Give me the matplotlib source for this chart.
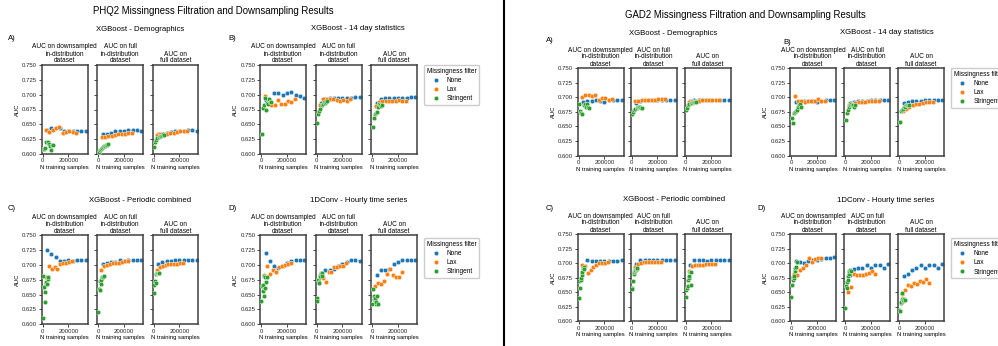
import matplotlib
matplotlib.use("Agg")
import matplotlib.pyplot as plt
from matplotlib.lines import Line2D

plt.rcParams['font.family'] = ['Liberation Sans', 'DejaVu Sans']

# x positions (N training samples) per filter
x_none = [34000, 67000, 101000, 134000, 168000, 201000, 235000, 268000, 302000, 335000]
x_lax_ab = [26000, 52000, 78000, 104000, 130000, 156000, 182000, 208000, 234000, 260000]
x_lax_cd = [23000, 46000, 69000, 92000, 115000, 138000, 161000, 184000, 207000, 230000]
x_str_ab = [5000, 13000, 21000, 29000, 37000, 45000, 53000, 61000, 69000, 78000]
x_str_cd = [1000, 5000, 10000, 14000, 19000, 23000, 28000, 32000, 37000, 42000]

col_titles = ["AUC on downsampled\nin-distribution\ndataset",
              "AUC on full\nin-distribution\ndataset",
              "AUC on\nfull dataset"]
filters = ["None", "Lax", "Stringent"]
colors = ["#1f77b4", "#ff7f0e", "#2ca02c"]

# ---- PHQ2 ----
phq2_demo_none = [[0.640, 0.643, 0.644, 0.643, 0.638, 0.638, 0.639, 0.639, 0.639, 0.639],
                  [0.633, 0.634, 0.636, 0.638, 0.639, 0.639, 0.640, 0.640, 0.640, 0.639],
                  [0.633, 0.634, 0.635, 0.637, 0.638, 0.639, 0.639, 0.640, 0.640, 0.639]]
phq2_demo_lax = [[0.641, 0.637, 0.640, 0.643, 0.645, 0.636, 0.637, 0.639, 0.637, 0.636],
                 [0.628, 0.629, 0.630, 0.631, 0.632, 0.633, 0.634, 0.634, 0.635, 0.636],
                 [0.632, 0.633, 0.633, 0.634, 0.635, 0.636, 0.637, 0.638, 0.638, 0.639]]
phq2_demo_str = [[0.608, 0.609, 0.610, 0.621, 0.620, 0.617, 0.613, 0.606, 0.615, 0.616],
                 [0.603, 0.606, 0.608, 0.610, 0.611, 0.613, 0.614, 0.615, 0.616, 0.617],
                 [0.611, 0.620, 0.624, 0.627, 0.628, 0.630, 0.631, 0.632, 0.633, 0.632]]

phq2_14d_none = [[0.691, 0.688, 0.703, 0.703, 0.700, 0.702, 0.704, 0.700, 0.698, 0.695],
                 [0.686, 0.692, 0.694, 0.695, 0.695, 0.695, 0.695, 0.695, 0.696, 0.696],
                 [0.686, 0.692, 0.694, 0.694, 0.694, 0.695, 0.694, 0.695, 0.696, 0.696]]
phq2_14d_lax = [[0.698, 0.688, 0.682, 0.682, 0.691, 0.684, 0.685, 0.690, 0.688, 0.692],
                [0.682, 0.692, 0.692, 0.692, 0.692, 0.691, 0.690, 0.691, 0.690, 0.692],
                [0.681, 0.688, 0.689, 0.689, 0.689, 0.690, 0.690, 0.691, 0.690, 0.690]]
phq2_14d_str = [[0.634, 0.678, 0.682, 0.694, 0.675, 0.686, 0.684, 0.693, 0.688, 0.687],
                [0.652, 0.667, 0.672, 0.676, 0.682, 0.684, 0.687, 0.686, 0.688, 0.689],
                [0.646, 0.660, 0.668, 0.669, 0.670, 0.679, 0.685, 0.682, 0.681, 0.682]]

phq2_per_none = [[0.726, 0.718, 0.714, 0.706, 0.707, 0.709, 0.707, 0.709, 0.708, 0.708],
                 [0.701, 0.704, 0.705, 0.705, 0.708, 0.707, 0.708, 0.708, 0.708, 0.708],
                 [0.701, 0.705, 0.706, 0.706, 0.709, 0.708, 0.708, 0.708, 0.708, 0.708]]
phq2_per_lax = [[0.680, 0.698, 0.694, 0.696, 0.693, 0.701, 0.703, 0.704, 0.705, 0.707],
                [0.691, 0.699, 0.700, 0.701, 0.703, 0.703, 0.704, 0.705, 0.706, 0.707],
                [0.692, 0.697, 0.698, 0.700, 0.701, 0.702, 0.702, 0.702, 0.703, 0.704]]
phq2_per_str = [[0.610, 0.682, 0.663, 0.638, 0.655, 0.670, 0.672, 0.668, 0.676, 0.680],
                [0.620, 0.660, 0.657, 0.673, 0.668, 0.675, 0.680, 0.679, 0.680, 0.681],
                [0.652, 0.667, 0.673, 0.670, 0.685, 0.687, 0.686, 0.687, 0.686, 0.687]]

phq2_conv_none = [[0.720, 0.706, 0.698, 0.695, 0.698, 0.703, 0.707, 0.709, 0.708, 0.708],
                  [0.686, 0.692, 0.692, 0.693, 0.698, 0.702, 0.705, 0.708, 0.708, 0.707],
                  [0.683, 0.692, 0.692, 0.694, 0.702, 0.705, 0.708, 0.708, 0.709, 0.708]]
phq2_conv_lax = [[0.683, 0.699, 0.685, 0.692, 0.688, 0.697, 0.698, 0.700, 0.701, 0.703],
                 [0.683, 0.678, 0.671, 0.688, 0.688, 0.696, 0.697, 0.698, 0.699, 0.703],
                 [0.664, 0.670, 0.668, 0.673, 0.684, 0.693, 0.683, 0.680, 0.679, 0.688]]
phq2_conv_str = [[0.639, 0.665, 0.656, 0.667, 0.648, 0.681, 0.680, 0.661, 0.672, 0.680],
                 [0.645, 0.640, 0.674, 0.671, 0.670, 0.679, 0.682, 0.685, 0.686, 0.681],
                 [0.634, 0.660, 0.642, 0.648, 0.641, 0.645, 0.634, 0.638, 0.647, 0.634]]

# ---- GAD2 ----
gad2_demo_none = [[0.691, 0.693, 0.694, 0.695, 0.694, 0.692, 0.695, 0.695, 0.695, 0.695],
                  [0.690, 0.694, 0.695, 0.696, 0.696, 0.696, 0.696, 0.696, 0.696, 0.696],
                  [0.693, 0.695, 0.696, 0.696, 0.696, 0.696, 0.696, 0.696, 0.696, 0.696]]
gad2_demo_lax = [[0.701, 0.703, 0.703, 0.702, 0.703, 0.696, 0.698, 0.698, 0.695, 0.697],
                 [0.693, 0.694, 0.695, 0.695, 0.696, 0.696, 0.696, 0.697, 0.697, 0.697],
                 [0.692, 0.693, 0.694, 0.694, 0.695, 0.695, 0.695, 0.695, 0.695, 0.695]]
gad2_demo_str = [[0.689, 0.676, 0.673, 0.672, 0.686, 0.688, 0.684, 0.689, 0.683, 0.682],
                 [0.672, 0.675, 0.678, 0.680, 0.682, 0.683, 0.684, 0.683, 0.682, 0.682],
                 [0.678, 0.682, 0.686, 0.688, 0.690, 0.690, 0.691, 0.691, 0.692, 0.692]]

gad2_14d_none = [[0.691, 0.692, 0.693, 0.693, 0.693, 0.692, 0.694, 0.695, 0.696, 0.696],
                 [0.690, 0.692, 0.693, 0.694, 0.694, 0.695, 0.695, 0.695, 0.696, 0.696],
                 [0.690, 0.692, 0.694, 0.694, 0.694, 0.695, 0.695, 0.695, 0.696, 0.696]]
gad2_14d_lax = [[0.702, 0.694, 0.693, 0.692, 0.693, 0.694, 0.694, 0.697, 0.693, 0.693],
                [0.686, 0.689, 0.690, 0.691, 0.691, 0.692, 0.693, 0.693, 0.693, 0.693],
                [0.677, 0.680, 0.684, 0.686, 0.688, 0.689, 0.690, 0.691, 0.691, 0.692]]
gad2_14d_str = [[0.665, 0.656, 0.673, 0.674, 0.676, 0.679, 0.683, 0.686, 0.689, 0.684],
                [0.661, 0.673, 0.678, 0.683, 0.686, 0.688, 0.687, 0.687, 0.684, 0.686],
                [0.658, 0.677, 0.678, 0.680, 0.683, 0.684, 0.686, 0.687, 0.686, 0.686]]

gad2_per_none = [[0.695, 0.705, 0.703, 0.703, 0.703, 0.703, 0.704, 0.703, 0.703, 0.705],
                 [0.698, 0.705, 0.705, 0.705, 0.705, 0.705, 0.705, 0.705, 0.705, 0.705],
                 [0.697, 0.705, 0.705, 0.705, 0.704, 0.705, 0.705, 0.705, 0.705, 0.705]]
gad2_per_lax = [[0.697, 0.695, 0.683, 0.689, 0.693, 0.697, 0.701, 0.700, 0.700, 0.702],
                [0.693, 0.699, 0.701, 0.702, 0.702, 0.702, 0.702, 0.702, 0.702, 0.702],
                [0.687, 0.695, 0.697, 0.697, 0.697, 0.696, 0.698, 0.699, 0.699, 0.699]]
gad2_per_str = [[0.640, 0.669, 0.657, 0.671, 0.674, 0.679, 0.684, 0.691, 0.693, 0.690],
                [0.658, 0.655, 0.669, 0.682, 0.684, 0.686, 0.688, 0.690, 0.690, 0.692],
                [0.642, 0.654, 0.657, 0.660, 0.671, 0.675, 0.677, 0.684, 0.685, 0.662]]

gad2_conv_none = [[0.703, 0.702, 0.700, 0.703, 0.705, 0.706, 0.707, 0.708, 0.708, 0.711],
                  [0.680, 0.690, 0.691, 0.692, 0.697, 0.691, 0.697, 0.697, 0.692, 0.698],
                  [0.678, 0.681, 0.689, 0.691, 0.697, 0.692, 0.697, 0.697, 0.692, 0.698]]
gad2_conv_lax = [[0.681, 0.680, 0.688, 0.691, 0.696, 0.708, 0.702, 0.707, 0.708, 0.709],
                 [0.651, 0.659, 0.681, 0.679, 0.679, 0.679, 0.681, 0.683, 0.687, 0.681],
                 [0.647, 0.654, 0.663, 0.661, 0.666, 0.664, 0.670, 0.668, 0.672, 0.665]]
gad2_conv_str = [[0.641, 0.663, 0.671, 0.676, 0.674, 0.678, 0.687, 0.691, 0.693, 0.702],
                 [0.622, 0.661, 0.658, 0.667, 0.671, 0.678, 0.682, 0.686, 0.688, 0.687],
                 [0.620, 0.617, 0.631, 0.634, 0.648, 0.638, 0.635, 0.637, 0.638, 0.636]]

W, H = 998, 346
fig = plt.figure(figsize=(W / 100, H / 100), dpi=100)

TICK_FS = 4.3
LABEL_FS = 4.2
COLT_FS = 4.7
PANEL_FS = 5.6
SUP_FS = 6.9


def px_axes(left, top, width, height):
    return fig.add_axes([left / W, 1 - (top + height) / H, width / W, height / H])


def ftext(x, y, s, **kw):
    fig.text(x / W, 1 - y / H, s, ha=kw.pop('ha', 'center'), va=kw.pop('va', 'center'), **kw)


def draw_panel(lefts, top, width, height, series, xs, legend_at=None):
    for i, left in enumerate(lefts):
        ax = px_axes(left, top, width, height)
        for k in range(3):
            ax.scatter(xs[k], series[k][i], s=11, color=colors[k], edgecolors='white',
                       linewidths=0.3, zorder=2 + k)
        ax.set_ylim(0.6, 0.75)
        ax.set_xlim(-10000, 350000)
        ax.set_yticks([0.600, 0.625, 0.650, 0.675, 0.700, 0.725, 0.750])
        ax.set_xticks([0, 200000])
        ax.set_xticklabels(["0", "200000"])
        ax.tick_params(direction='out', length=2.2, width=0.6, pad=1,
                       labelsize=TICK_FS, colors='0.15')
        for sp in ax.spines.values():
            sp.set_linewidth(1.1)
            sp.set_color('0.25')
        if i == 0:
            ax.set_yticklabels(["0.600", "0.625", "0.650", "0.675", "0.700", "0.725", "0.750"])
            ax.set_ylabel("AUC", fontsize=LABEL_FS, labelpad=1.5)
        else:
            ax.set_yticklabels([])
        ax.set_xlabel("N training samples", fontsize=LABEL_FS, labelpad=1)
        ax.set_title(col_titles[i], fontsize=COLT_FS, pad=1.8, linespacing=1.0)
    if legend_at is not None:
        handles = [Line2D([], [], marker='o', linestyle='', markersize=3.3,
                          markerfacecolor=c, markeredgecolor='white', markeredgewidth=0.3)
                   for c in colors]
        fig.legend(handles, filters, title="Missingness filter", loc='upper left',
                   bbox_to_anchor=(legend_at[0] / W, 1 - legend_at[1] / H),
                   bbox_transform=fig.transFigure, fontsize=COLT_FS, title_fontsize=COLT_FS,
                   frameon=True, fancybox=True, edgecolor='0.8', framealpha=1,
                   borderpad=0.4, labelspacing=0.35, handlelength=1.6, handletextpad=0.9,
                   borderaxespad=0)


# ---------- PHQ2 (left) ----------
ftext(213.5, 10.7, "PHQ2 Missingness Filtration and Downsampling Results", fontsize=SUP_FS)
lefts_a = [41.5, 97, 152.5]
lefts_b = [260, 315.5, 371]
ftext(140, 29.3, "XGBoost - Demographics", fontsize=PANEL_FS)
ftext(358, 28.3, "XGBoost - 14 day statistics", fontsize=PANEL_FS)
ftext(140, 200, "XGBoost - Periodic combined", fontsize=PANEL_FS)
ftext(358.7, 200, "1DConv - Hourly time series", fontsize=PANEL_FS)
ftext(8, 39, "A)", fontsize=PANEL_FS, ha='left')
ftext(228, 39, "B)", fontsize=PANEL_FS, ha='left')
ftext(8, 209, "C)", fontsize=PANEL_FS, ha='left')
ftext(228, 209, "D)", fontsize=PANEL_FS, ha='left')

xs_ab = [x_none, x_lax_ab, x_str_ab]
xs_cd = [x_none, x_lax_cd, x_str_cd]
draw_panel(lefts_a, 65, 46, 89, [phq2_demo_none, phq2_demo_lax, phq2_demo_str], xs_ab)
draw_panel(lefts_b, 65, 46, 89, [phq2_14d_none, phq2_14d_lax, phq2_14d_str], xs_ab,
           legend_at=(424.3, 65))
draw_panel(lefts_a, 235.3, 46, 89, [phq2_per_none, phq2_per_lax, phq2_per_str], xs_cd)
draw_panel(lefts_b, 235.3, 46, 89, [phq2_conv_none, phq2_conv_lax, phq2_conv_str], xs_cd,
           legend_at=(424.3, 238))

# divider between the two figures
fig.add_artist(Line2D([503.5 / W, 503.5 / W], [0, 1], color='black', linewidth=1.5))

# ---------- GAD2 (right) ----------
ftext(745, 15, "GAD2 Missingness Filtration and Downsampling Results", fontsize=SUP_FS)
lefts_c = [577.5, 630.5, 684.5]
lefts_d = [790, 844, 898]
ftext(673, 33.3, "XGBoost - Demographics", fontsize=PANEL_FS)
ftext(886.7, 33, "XGBoost - 14 day statistics", fontsize=PANEL_FS)
ftext(674, 199.3, "XGBoost - Periodic combined", fontsize=PANEL_FS)
ftext(886, 200, "1DConv - Hourly time series", fontsize=PANEL_FS)
ftext(545.7, 40.7, "A)", fontsize=PANEL_FS, ha='left')
ftext(783, 42, "B)", fontsize=PANEL_FS, ha='left')
ftext(545.7, 208.3, "C)", fontsize=PANEL_FS, ha='left')
ftext(757, 208, "D)", fontsize=PANEL_FS, ha='left')

draw_panel(lefts_c, 68, 46, 87.7, [gad2_demo_none, gad2_demo_lax, gad2_demo_str], xs_ab)
draw_panel(lefts_d, 68, 46, 87.7, [gad2_14d_none, gad2_14d_lax, gad2_14d_str], xs_ab,
           legend_at=(951, 68))
draw_panel(lefts_c, 234, 46, 87.3, [gad2_per_none, gad2_per_lax, gad2_per_str], xs_cd)
draw_panel(lefts_d, 234, 46, 87.3, [gad2_conv_none, gad2_conv_lax, gad2_conv_str], xs_cd,
           legend_at=(951, 238.3))

fig.savefig("out.png", dpi=100)
